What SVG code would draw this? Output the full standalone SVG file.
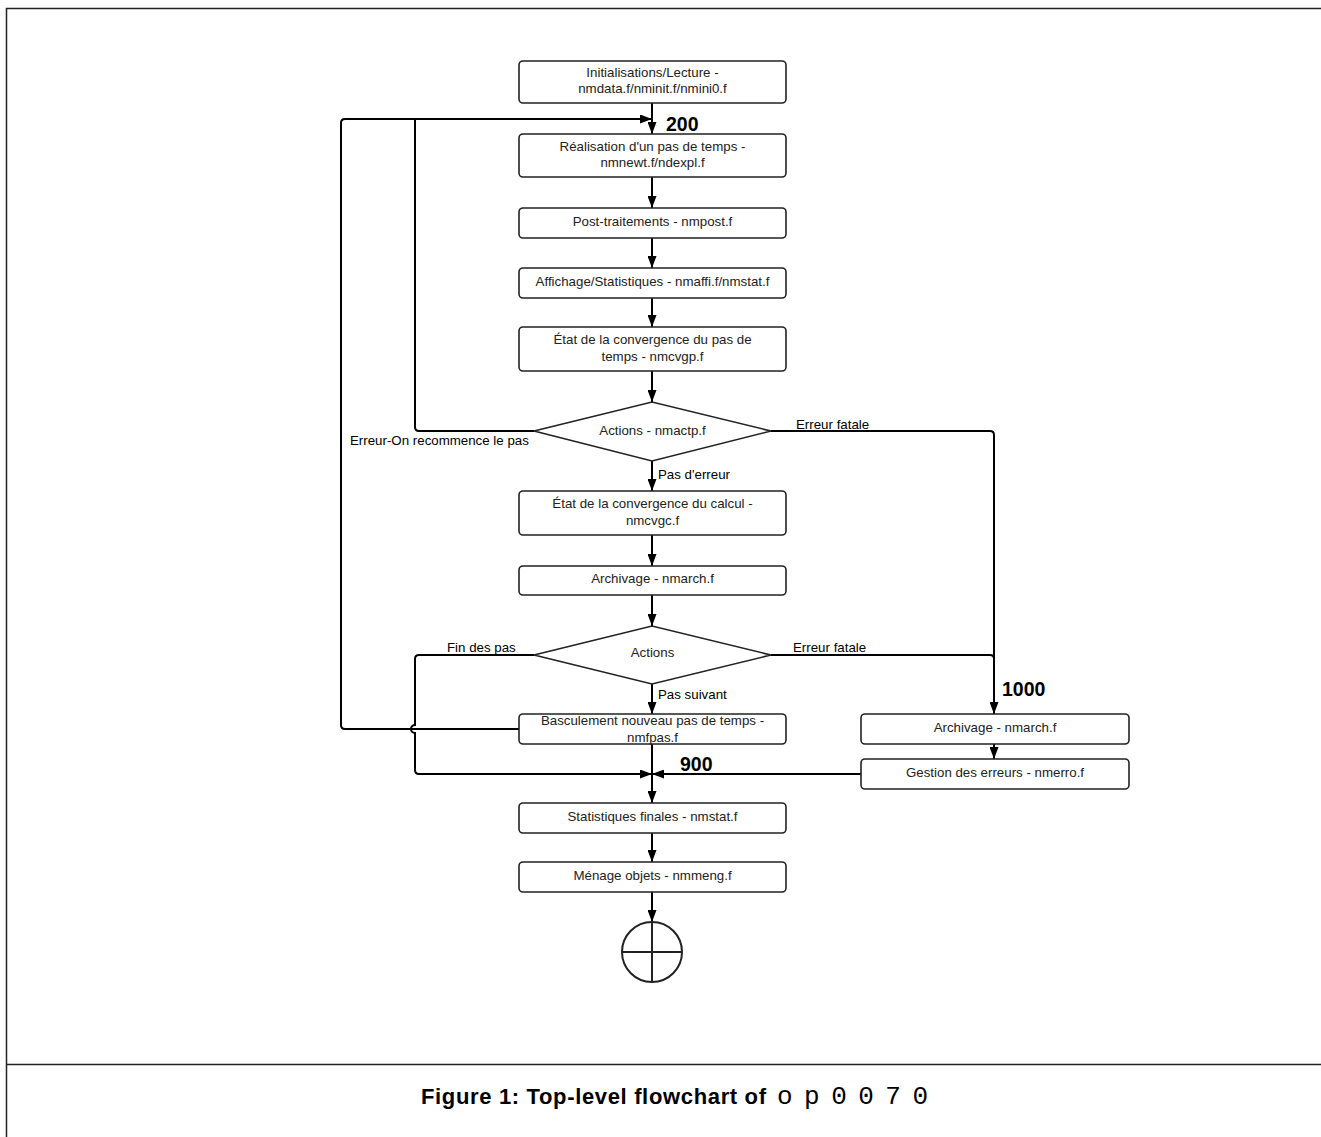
<svg xmlns="http://www.w3.org/2000/svg" width="1321" height="1137" viewBox="0 0 1321 1137">
<defs>
<marker id="ah" viewBox="0 0 12 10" refX="12" refY="5" markerWidth="12" markerHeight="9" markerUnits="userSpaceOnUse" orient="auto" preserveAspectRatio="none">
<path d="M0,0 L12,5 L0,10 z" fill="#000"/>
</marker>
<style>
.box{fill:#fff;stroke:#222;stroke-width:1.6}
.t{font-family:"Liberation Sans",Arial,sans-serif;font-size:13.3px;fill:#222;text-anchor:middle}
.lab{font-family:"Liberation Sans",Arial,sans-serif;font-size:13.3px;fill:#000}
.num{font-family:"Liberation Sans",Arial,sans-serif;font-size:19.5px;font-weight:bold;fill:#000}
.c{fill:none;stroke:#000;stroke-width:2;stroke-linejoin:round}
.ca{fill:none;stroke:#000;stroke-width:2;marker-end:url(#ah)}
</style>
</defs>
<rect width="1321" height="1137" fill="#fff"/>
<g id="frame" fill="none" stroke="#222" stroke-width="1.5">
<path d="M6.5,1137 V8.5 H1321"/>
<path d="M6.5,1064.5 H1321"/>
</g>
<g id="connectors">
<path class="ca" d="M652,103 V134"/>
<path class="ca" d="M519,729 H345 q-4,0 -4,-4 V123 q0,-4 4,-4 H652"/>
<path class="c" d="M534,431 H419 q-4,0 -4,-4 V119"/>
<path class="ca" d="M652,177 V208"/>
<path class="ca" d="M652,238 V268"/>
<path class="ca" d="M652,298 V327"/>
<path class="ca" d="M652,371 V402"/>
<path class="ca" d="M652,461 V491"/>
<path class="ca" d="M652,535 V566"/>
<path class="ca" d="M652,595 V626"/>
<path class="ca" d="M652,684 V714"/>
<path class="ca" d="M771,431 H990 q4,0 4,4 V714"/>
<path class="c" d="M771,655 H990 q4,0 4,4"/>
<path class="ca" d="M534,655 H419 q-4,0 -4,4 V725 a4,4 0 0 0 0,8 V770 q0,4 4,4 H652"/>
<path class="ca" d="M652,744 V803"/>
<path class="ca" d="M861,774 H652"/>
<path class="ca" d="M994,744 V759"/>
<path class="ca" d="M652,833 V862"/>
<path class="ca" d="M652,892 V922"/>
<text class="lab" x="350" y="445">Erreur-On recommence le pas</text>
<text class="lab" x="796" y="429">Erreur fatale</text>
<text class="lab" x="658" y="479">Pas d'erreur</text>
<text class="lab" x="447" y="652">Fin des pas</text>
<text class="lab" x="793" y="652">Erreur fatale</text>
<text class="lab" x="658" y="699">Pas suivant</text>
<text class="num" x="666" y="131">200</text>
<text class="num" x="1002" y="696">1000</text>
<text class="num" x="680" y="771">900</text>
</g>
<g id="n1"><rect class="box" x="519" y="61" width="267" height="42" rx="4"/><text class="t" x="652.5" y="77">Initialisations/Lecture -</text><text class="t" x="652.5" y="93">nmdata.f/nminit.f/nmini0.f</text></g>
<g id="n2"><rect class="box" x="519" y="134" width="267" height="43" rx="4"/><text class="t" x="652.5" y="151">Réalisation d'un pas de temps -</text><text class="t" x="652.5" y="167">nmnewt.f/ndexpl.f</text></g>
<g id="n3"><rect class="box" x="519" y="208" width="267" height="30" rx="4"/><text class="t" x="652.5" y="226">Post-traitements - nmpost.f</text></g>
<g id="n4"><rect class="box" x="519" y="268" width="267" height="30" rx="4"/><text class="t" x="652.5" y="286">Affichage/Statistiques - nmaffi.f/nmstat.f</text></g>
<g id="n5"><rect class="box" x="519" y="327" width="267" height="44" rx="4"/><text class="t" x="652.5" y="344">État de la convergence du pas de</text><text class="t" x="652.5" y="361">temps - nmcvgp.f</text></g>
<g id="d1"><path class="box" d="M534,431 L652,402 L771,431 L652,461 Z"/><text class="t" x="652.5" y="435">Actions - nmactp.f</text></g>
<g id="n6"><rect class="box" x="519" y="491" width="267" height="44" rx="4"/><text class="t" x="652.5" y="508">État de la convergence du calcul -</text><text class="t" x="652.5" y="525">nmcvgc.f</text></g>
<g id="n7"><rect class="box" x="519" y="566" width="267" height="29" rx="4"/><text class="t" x="652.5" y="583">Archivage - nmarch.f</text></g>
<g id="d2"><path class="box" d="M534,655 L652,626 L771,655 L652,684 Z"/><text class="t" x="652.5" y="657">Actions</text></g>
<g id="n8"><rect class="box" x="519" y="714" width="267" height="30" rx="4"/><text class="t" x="652.5" y="725">Basculement nouveau pas de temps -</text><text class="t" x="652.5" y="742">nmfpas.f</text></g>
<g id="n9"><rect class="box" x="519" y="803" width="267" height="30" rx="4"/><text class="t" x="652.5" y="821">Statistiques finales - nmstat.f</text></g>
<g id="n10"><rect class="box" x="519" y="862" width="267" height="30" rx="4"/><text class="t" x="652.5" y="880">Ménage objets - nmmeng.f</text></g>
<g id="n11"><rect class="box" x="861" y="714" width="268" height="30" rx="4"/><text class="t" x="995" y="732">Archivage - nmarch.f</text></g>
<g id="n12"><rect class="box" x="861" y="759" width="268" height="30" rx="4"/><text class="t" x="995" y="777">Gestion des erreurs - nmerro.f</text></g>
<g id="end"><circle class="box" cx="652" cy="952" r="30" style="stroke-width:2"/><path d="M622,952 H682 M652,922 V982" stroke="#222" stroke-width="2"/></g>
<g id="caption">
<text x="421" y="1104" textLength="345" lengthAdjust="spacing" style="font-family:'Liberation Sans',Arial,sans-serif;font-size:22px;font-weight:bold;fill:#000">Figure 1: Top-level flowchart of</text>
<text x="777" y="1104" textLength="151" lengthAdjust="spacing" style="font-family:'Liberation Mono','Courier New',monospace;font-size:26px;fill:#000">op0070</text>
</g>
</svg>
